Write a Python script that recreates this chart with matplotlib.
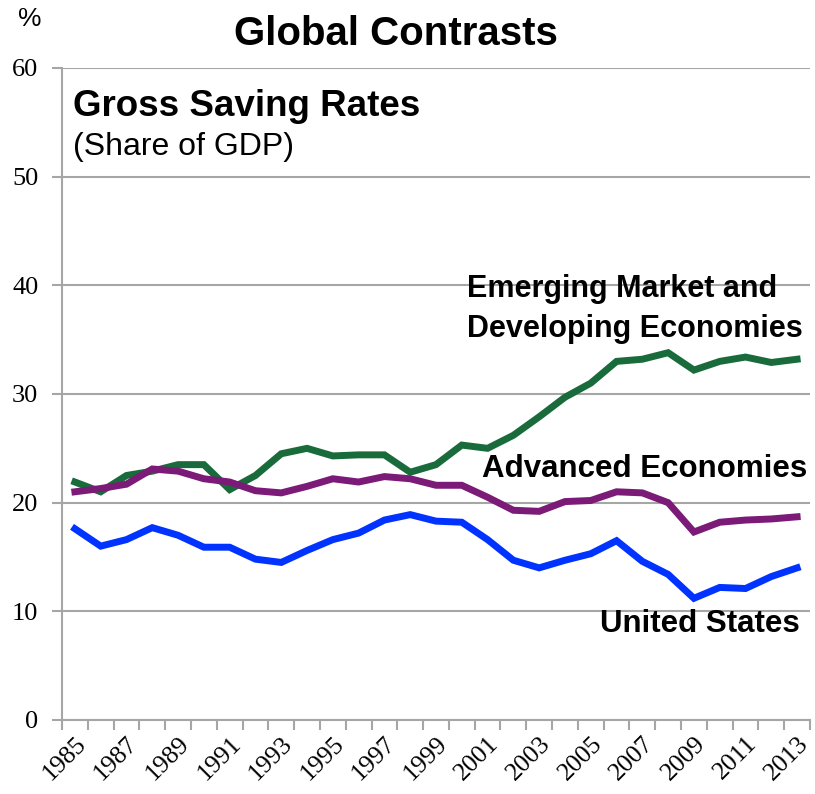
import numpy as np
import matplotlib.pyplot as plt

years = list(range(1985, 2014))

# gross saving, percent of GDP
emerging = [21.9, 21.0, 22.5, 22.9, 23.5, 23.5, 21.2, 22.5, 24.5, 25.0, 24.3, 24.4, 24.4, 22.8,
            23.5, 25.3, 25.0, 26.2, 27.9, 29.7, 31.0, 33.0, 33.2, 33.8, 32.2, 33.0, 33.4, 32.9, 33.2]
advanced = [21.0, 21.3, 21.7, 23.1, 22.9, 22.2, 21.9, 21.1, 20.9, 21.5, 22.2, 21.9, 22.4, 22.2,
            21.6, 21.6, 20.5, 19.3, 19.2, 20.1, 20.2, 21.0, 20.9, 20.0, 17.3, 18.2, 18.4, 18.5, 18.7]
united_states = [17.6, 16.0, 16.6, 17.7, 17.0, 15.9, 15.9, 14.8, 14.5, 15.6, 16.6, 17.2, 18.4, 18.9,
                 18.3, 18.2, 16.6, 14.7, 14.0, 14.7, 15.3, 16.5, 14.6, 13.4, 11.2, 12.2, 12.1, 13.2, 14.0]

serif = 'Liberation Serif'
sans = 'Liberation Sans'
grid_col = '#a6a6a6'

fig = plt.figure(figsize=(8.15, 7.94), dpi=100)
ax = fig.add_axes([62 / 815, 1 - 720 / 794, 748 / 815, 652 / 794])

x = np.arange(len(years))
ax.plot(x, emerging, color='#1a6b3c', lw=5, solid_joinstyle='miter', zorder=3)
ax.plot(x, advanced, color='#7b1a77', lw=5, solid_joinstyle='miter', zorder=3)
ax.plot(x, united_states, color='#0033ff', lw=5, solid_joinstyle='miter', zorder=3)

ax.set_xlim(-0.5, len(years) - 0.5)
ax.set_ylim(0, 60)

# category boundaries get tick marks, labels sit at every other year
ax.set_xticks(np.arange(-0.5, len(years), 1.0))
ax.set_xticklabels([])
ax.set_xticks(x[::2], minor=True)
ax.set_xticklabels([str(y) for y in years[::2]], minor=True, rotation=45,
                   ha='right', va='top', rotation_mode='anchor',
                   fontfamily=serif, fontsize=18.5)
ax.tick_params(axis='x', which='major', length=7, width=1.5, color=grid_col)
ax.tick_params(axis='x', which='minor', length=0, pad=9)

ax.set_yticks(range(0, 61, 10))
ax.set_yticklabels([str(v) for v in range(0, 61, 10)], fontfamily=serif, fontsize=19)
ax.tick_params(axis='y', length=7, width=1.5, color=grid_col, pad=10)
ax.yaxis.grid(True, color=grid_col, lw=1.5)
ax.set_axisbelow(True)

for side in ['top', 'right']:
    ax.spines[side].set_visible(False)
for side in ['left', 'bottom']:
    ax.spines[side].set_color(grid_col)
    ax.spines[side].set_linewidth(1.5)

fig.text(396 / 815, 1 - 34 / 794, 'Global Contrasts', ha='center', va='center',
         fontfamily=sans, fontweight='bold', fontsize=29)
fig.text(30 / 815, 1 - 19 / 794, '%', ha='center', va='center', fontfamily=sans, fontsize=19)

ax.text(0.0147, 56.5, 'Gross Saving Rates', transform=ax.get_yaxis_transform(),
        ha='left', va='center', fontfamily=sans, fontweight='bold', fontsize=26.5)
ax.text(0.0147, 52.7, '(Share of GDP)', transform=ax.get_yaxis_transform(),
        ha='left', va='center', fontfamily=sans, fontsize=23)

ax.text(15.2, 37.8, 'Emerging Market and\nDeveloping Economies', ha='left', va='center',
        linespacing=1.45, fontfamily=sans, fontweight='bold', fontsize=22)
ax.text(28.4, 23.1, 'Advanced Economies', ha='right', va='center',
        fontfamily=sans, fontweight='bold', fontsize=22.5)
ax.text(28.1, 8.8, 'United States', ha='right', va='center',
        fontfamily=sans, fontweight='bold', fontsize=22.5)

fig.savefig('out.png', dpi=100)
